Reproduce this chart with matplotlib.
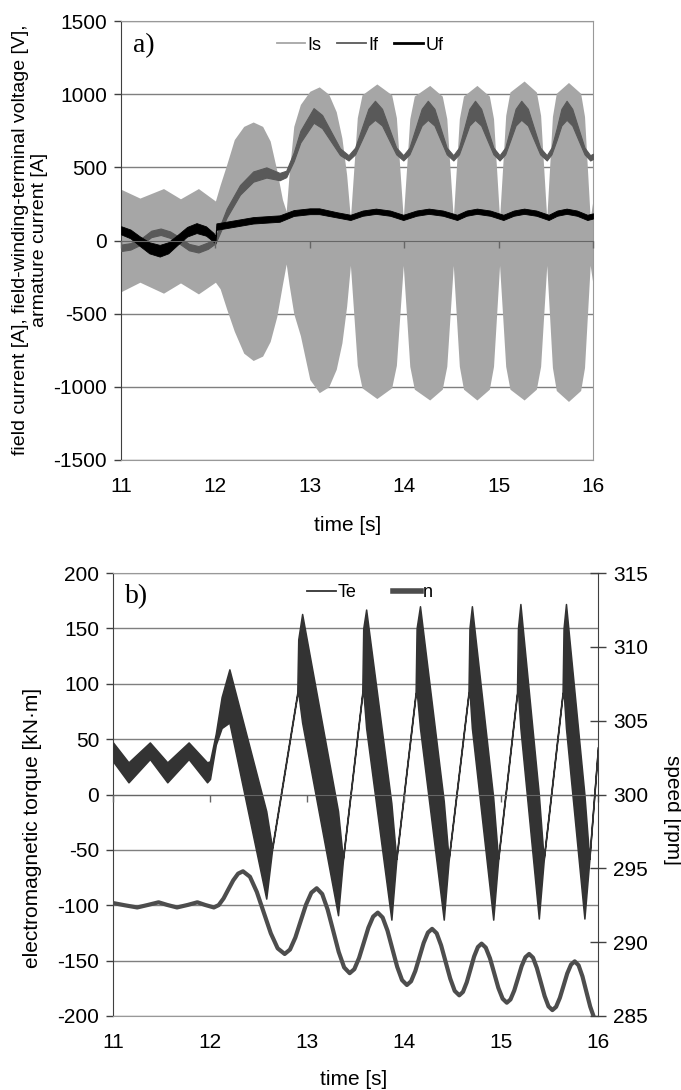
import numpy as np
import matplotlib.pyplot as plt
from matplotlib.lines import Line2D

plt.rcParams['font.family'] = ['Liberation Sans', 'DejaVu Sans']
plt.rcParams['axes.unicode_minus'] = False

# ---- a) armature current envelope (Is) ----
is_t = [11.00, 11.20, 11.45, 11.63, 11.82, 12.00, 12.05, 12.12, 12.20, 12.30, 12.40, 12.50,
        12.58, 12.65, 12.71, 12.75, 12.78, 12.83, 12.90, 13.00, 13.10, 13.20, 13.28, 13.34,
        13.39, 13.43, 13.469, 13.503, 13.553, 13.71, 13.867, 13.917, 13.951,
        13.99, 14.027, 14.059, 14.107, 14.27, 14.403, 14.451, 14.483,
        14.52, 14.554, 14.584, 14.628, 14.77, 14.902, 14.946, 14.976,
        15.01, 15.045, 15.075, 15.12, 15.27, 15.40, 15.445, 15.475,
        15.51, 15.542, 15.57, 15.611, 15.74, 15.869, 15.91, 15.938, 15.97, 16.00]
is_hi = [350, 290, 355, 285, 355, 270, 380, 520, 690, 780, 810, 780, 680, 480, 280, 200,
         450, 780, 930, 1020, 1050, 1000, 880, 700, 450, 150, 518, 840, 996, 1070, 996, 840,
         518, 150, 514, 833, 987, 1060, 987, 833, 514, 150, 514, 833, 987, 1060, 987, 833,
         514, 150, 526, 855, 1015, 1090, 1015, 855, 526, 150, 522, 848, 1006, 1080, 1006,
         848, 522, 150, 280]
is_lo = [-350, -285, -360, -290, -365, -285, -330, -470, -620, -770, -820, -790, -690, -520,
         -300, -160, -300, -500, -650, -950, -1040, -1000, -880, -700, -450, -170, -534, -853,
         -1007, -1080, -1007, -853, -534, -170, -538, -860, -1016, -1090, -1016, -860, -538,
         -170, -538, -860, -1016, -1090, -1016, -860, -538, -170, -538, -860, -1016, -1090,
         -1016, -860, -538, -170, -542, -868, -1025, -1100, -1025, -868, -542, -170, -300]

# ---- field current (If): centre and ripple half-width ----
if_t = [11.00, 11.10, 11.23, 11.32, 11.42, 11.52, 11.62, 11.72, 11.82, 11.92, 12.00, 12.12,
        12.26, 12.40, 12.54, 12.68, 12.75, 12.83, 12.90, 13.04, 13.13, 13.225, 13.32, 13.41,
        13.48, 13.55, 13.62, 13.69, 13.765, 13.84, 13.915, 13.99, 14.055, 14.12, 14.185, 14.25,
        14.32, 14.385, 14.45, 14.52, 14.58, 14.635, 14.69, 14.75, 14.815, 14.88, 14.945, 15.01,
        15.07, 15.125, 15.18, 15.24, 15.31, 15.375, 15.44, 15.51, 15.56, 15.615, 15.665, 15.72,
        15.78, 15.845, 15.91, 15.97, 16.00]
if_c = [-50, -40, 0, 45, 60, 40, 0, -45, -60, -35, 0, 188, 346, 437, 465, 437, 455, 573, 710,
        855, 813, 710, 607, 565,
        612, 727, 843, 890, 843, 727, 612, 565,
        612, 727, 843, 890, 843, 727, 612, 565,
        612, 727, 843, 890, 843, 727, 612, 565,
        612, 727, 843, 890, 843, 727, 612, 565,
        612, 727, 843, 890, 843, 727, 612, 565, 575]
if_h = [22, 22, 22, 22, 22, 22, 22, 22, 22, 22, 20, 30, 33, 35, 35, 25, 22, 30, 40, 50, 45,
        34, 23, 18,
        23, 40, 57, 65, 57, 40, 23, 18,
        23, 40, 57, 65, 57, 40, 23, 18,
        23, 40, 57, 65, 57, 40, 23, 18,
        23, 40, 57, 65, 57, 40, 23, 18,
        23, 40, 57, 65, 57, 40, 23, 18, 18]

# ---- field-winding-terminal voltage (Uf) ----
uf_t = [11.00, 11.10, 11.20, 11.30, 11.41, 11.50, 11.60, 11.70, 11.80, 11.90, 11.98, 12.00,
        12.01, 12.12, 12.40, 12.68, 12.83, 13.00, 13.10, 13.29, 13.43, 13.56, 13.70, 13.85,
        13.99, 14.13, 14.26, 14.41, 14.56, 14.66, 14.77, 14.91, 15.05, 15.16, 15.27, 15.40,
        15.53, 15.62, 15.72, 15.83, 15.94, 16.00]
uf_c = [70, 45, -5, -50, -70, -50, 5, 60, 85, 65, 22, 5, 95, 107, 138, 150, 188, 200, 200,
        175, 158, 187, 200, 187, 158, 187, 200, 187, 158, 187, 200, 187, 158, 187, 200, 187,
        158, 187, 200, 187, 158, 168]
uf_h = [28, 30, 33, 38, 40, 38, 34, 33, 34, 32, 30, 25, 22, 22, 22, 22, 20, 20, 20, 18, 18,
        18, 18, 18, 18, 18, 18, 18, 18, 18, 18, 18, 18, 18, 18, 18, 18, 18, 18, 18, 18, 18]

# ---- b) electromagnetic torque band (Te) ----
te_t = [11.00, 11.16, 11.38, 11.56, 11.78, 11.97, 12.00, 12.06, 12.12, 12.20, 12.58, 12.64,
        12.90, 12.91, 12.95, 13.32, 13.37, 13.57, 13.58, 13.61, 13.87, 13.92, 14.12, 14.13,
        14.165, 14.41, 14.46, 14.665, 14.675, 14.70, 14.92, 14.97, 15.165, 15.175, 15.20,
        15.39, 15.44, 15.635, 15.645, 15.67, 15.86, 15.91, 16.00]
te_hi = [47, 29, 47, 29, 47, 29, 30, 55, 88, 113, -15, -48, 92, 140, 163, -15, -58, 92, 150,
         167, -8, -58, 92, 150, 170, -6, -58, 92, 150, 170, -3, -58, 92, 150, 172, 0,
         -58, 92, 150, 172, 0, -58, 43]
te_lo = [30, 11, 32, 11, 32, 11, 14, 45, 60, 65, -94, -50, 90, 92, 65, -109, -60, 90, 94,
         60, -113, -60, 90, 94, 60, -113, -60, 90, 94, 60, -113, -60, 90, 94, 60, -112, -60,
         90, 94, 60, -112, -60, 42]

# ---- speed (n) ----
n_t = [11.00, 11.12, 11.25, 11.36, 11.47, 11.56, 11.66, 11.77, 11.87, 11.95, 12.04,
       12.09, 12.14, 12.19, 12.24, 12.29, 12.34,
       12.412, 12.483, 12.555, 12.627, 12.698, 12.77,
       12.825, 12.88, 12.935, 12.99, 13.045, 13.10,
       13.157, 13.213, 13.27, 13.327, 13.383, 13.44,
       13.488, 13.537, 13.585, 13.633, 13.682, 13.73,
       13.78, 13.83, 13.88, 13.93, 13.98, 14.03,
       14.073, 14.117, 14.16, 14.203, 14.247, 14.29,
       14.337, 14.383, 14.43, 14.477, 14.523, 14.57,
       14.608, 14.647, 14.685, 14.723, 14.762, 14.80,
       14.843, 14.887, 14.93, 14.973, 15.017, 15.06,
       15.098, 15.137, 15.175, 15.213, 15.252, 15.29,
       15.33, 15.37, 15.41, 15.45, 15.49, 15.53,
       15.568, 15.607, 15.645, 15.683, 15.722, 15.76,
       15.80, 15.84, 15.88, 15.92, 15.96, 16.00]
n_v = [292.65, 292.5, 292.35, 292.52, 292.7, 292.52, 292.35, 292.52, 292.7, 292.52, 292.35,
       292.51, 292.96, 293.58, 294.19, 294.64, 294.8,
       294.43, 293.4, 292.0, 290.6, 289.58, 289.2,
       289.5, 290.31, 291.43, 292.54, 293.35, 293.65,
       293.26, 292.21, 290.78, 289.34, 288.29, 287.9,
       288.17, 288.93, 289.95, 290.98, 291.73, 292.0,
       291.67, 290.78, 289.55, 288.33, 287.43, 287.1,
       287.35, 288.05, 289.0, 289.95, 290.65, 290.9,
       290.6, 289.78, 288.65, 287.53, 286.7, 286.4,
       286.63, 287.28, 288.15, 289.03, 289.67, 289.9,
       289.63, 288.9, 287.9, 286.9, 286.17, 285.9,
       286.12, 286.73, 287.55, 288.38, 288.98, 289.2,
       288.95, 288.25, 287.3, 286.35, 285.65, 285.4,
       285.62, 286.23, 287.05, 287.88, 288.48, 288.7,
       288.43, 287.68, 286.65, 285.63, 284.88, 284.6]

x_ticks = [11, 12, 13, 14, 15, 16]

FS = 15
DARK = '#404040'
BORDER = '#999999'
GRID = '#7f7f7f'

fig = plt.figure(figsize=(6.81, 10.9), dpi=100)
ax1 = fig.add_axes([0.1777, 0.578, 0.6931, 0.4027])
ax2 = fig.add_axes([0.1659, 0.0679, 0.7122, 0.4064])


def style_axes(ax):
    ax.set_xlim(11, 16)
    ax.set_xticks(x_ticks)
    ax.yaxis.grid(True, color=GRID, lw=1.0)
    ax.set_axisbelow(True)
    for s in ['top', 'right', 'bottom']:
        ax.spines[s].set_color(BORDER)
    ax.spines['left'].set_color(DARK)
    ax.tick_params(axis='x', length=0, pad=12, labelsize=FS)
    ax.tick_params(axis='y', direction='out', length=5, width=1, color=DARK,
                   labelsize=FS, pad=5)
    # category axis crossing at zero
    sec = ax.secondary_xaxis(0.5)
    sec.set_alignment('bottom')
    sec.set_xticks(x_ticks)
    sec.tick_params(length=5, width=1, color='#666666', labelbottom=False)
    sec.spines['bottom'].set_color('#666666')
    sec.set_zorder(6)


# ---------------- panel a ----------------
ax1.fill_between(is_t, is_lo, is_hi, color='#a6a6a6', lw=0, zorder=2)
if_c_a = np.array(if_c)
if_h_a = np.array(if_h)
ax1.fill_between(if_t, if_c_a - if_h_a, if_c_a + if_h_a, color='#595959',
                 edgecolor='#595959', lw=0.8, zorder=3)
uf_c_a = np.array(uf_c)
uf_h_a = np.array(uf_h)
ax1.fill_between(uf_t, uf_c_a - uf_h_a, uf_c_a + uf_h_a, color='black',
                 edgecolor='black', lw=0.6, zorder=4)
ax1.set_ylim(-1500, 1500)
ax1.set_yticks(np.arange(-1500, 1501, 500))
style_axes(ax1)

h1 = [Line2D([], [], color='#a6a6a6', lw=1.3),
      Line2D([], [], color='#595959', lw=1.3),
      Line2D([], [], color='black', lw=2.0)]
ax1.legend(h1, ['Is', 'If', 'Uf'], loc='center', bbox_to_anchor=(0.506, 0.945), ncol=3,
           frameon=False, fontsize=13, handlelength=1.6, handletextpad=0.1,
           columnspacing=0.9)
ax1.text(0.025, 0.943, 'a)', transform=ax1.transAxes, family='Liberation Serif',
         fontsize=20, va='center', ha='left')

# ---------------- panel b ----------------
ax2.fill_between(te_t, te_lo, te_hi, color='#333333', edgecolor='#333333', lw=1.1, zorder=3)
ax2.set_ylim(-200, 200)
ax2.set_yticks(np.arange(-200, 201, 50))
style_axes(ax2)
ax2.spines['right'].set_visible(False)

ax3 = ax2.twinx()
ax3.plot(n_t, n_v, color='#4d4d4d', lw=3.0, solid_capstyle='butt', zorder=5)
ax3.set_ylim(285, 315)
ax3.set_yticks(np.arange(285, 316, 5))
ax3.set_xlim(11, 16)
for s in ['top', 'left', 'bottom']:
    ax3.spines[s].set_visible(False)
ax3.spines['right'].set_color(DARK)
ax3.tick_params(axis='y', direction='inout', length=12, width=1, color=DARK,
                labelsize=FS, pad=5)

h2 = [Line2D([], [], color='#333333', lw=1.3),
      Line2D([], [], color='#4d4d4d', lw=4.0)]
ax2.legend(h2, ['Te', 'n'], loc='center', bbox_to_anchor=(0.53, 0.955), ncol=2,
           frameon=False, fontsize=13, handlelength=1.6, handletextpad=0.1,
           columnspacing=2.0)
ax2.text(0.025, 0.946, 'b)', transform=ax2.transAxes, family='Liberation Serif',
         fontsize=20, va='center', ha='left')

# ---------------- labels ----------------
fig.text(0.044, 0.78, 'field current [A], field-winding-terminal voltage [V],\narmature current [A]',
         rotation=90, ha='center', va='center', multialignment='center', fontsize=14,
         linespacing=1.1)
fig.text(0.51, 0.518, 'time [s]', ha='center', va='center', fontsize=FS)
fig.text(0.047, 0.2404, 'electromagnetic torque [kN\u00b7m]', rotation=90, ha='center',
         va='center', fontsize=FS)
fig.text(0.987, 0.257, 'speed [rpm]', rotation=270, ha='center', va='center', fontsize=FS)
fig.text(0.52, 0.0092, 'time [s]', ha='center', va='center', fontsize=FS)

fig.savefig('out.png', dpi=100)
